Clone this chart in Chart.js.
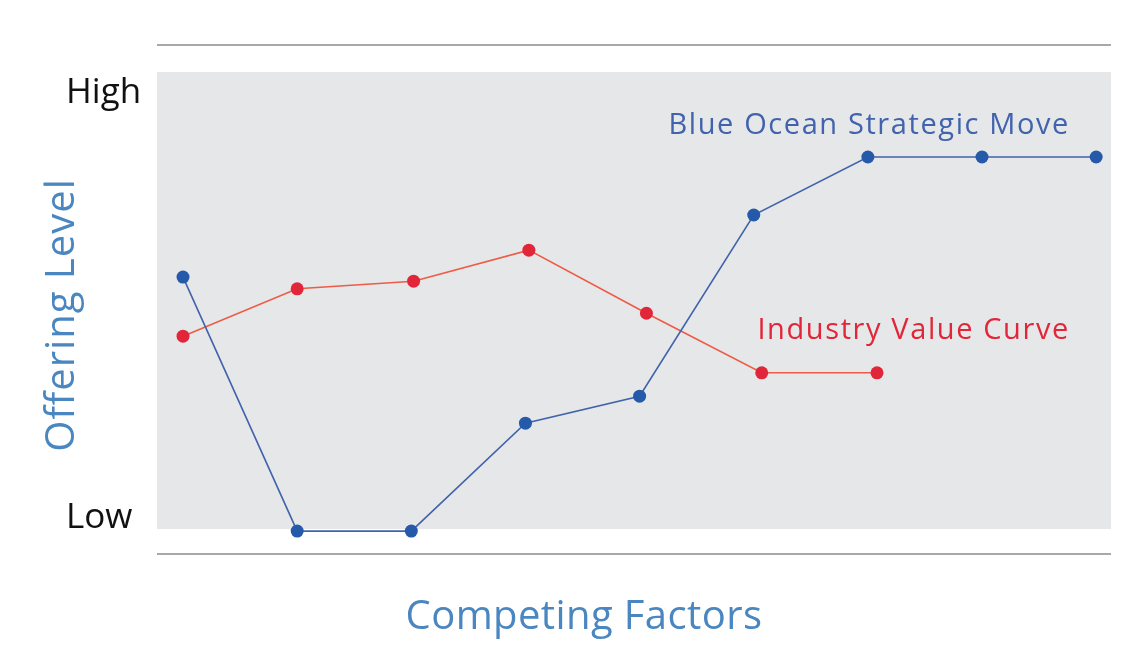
<!DOCTYPE html>
<html>
<head>
<meta charset="utf-8">
<script src="https://cdn.jsdelivr.net/npm/chart.js@4.4.1/dist/chart.umd.min.js"></script>
<style>
  html, body { margin: 0; padding: 0; background: #fff; }
  #canvas-wrap { width: 1146px; height: 660px; }
</style>
</head>
<body>
<div id="canvas-wrap"><canvas id="strategy-canvas" width="1146" height="660"></canvas></div>
<script>
// competing factor positions (x) and offering levels (y, 0-100)
const blueX = [0, 1, 2, 3, 4, 5, 6, 7, 8];
const blueLevels = [54.4, 4.5, 4.5, 25.7, 31.0, 66.6, 78.0, 78.0, 78.0];
const redX = [0, 1.0, 2.02, 3.03, 4.06, 5.07, 6.08];
const redLevels = [42.8, 52.1, 53.6, 59.7, 47.3, 35.6, 35.6];

const seriesNames = ['Blue Ocean Strategic Move', 'Industry Value Curve'];
const yTickValues = [7.1, 90.6];
const yTickLabels = ['Low', 'High'];
const axisTitles = { x: 'Competing Factors', y: 'Offering Level' };

// grey plot band, in level units
const bandRange = [4.9, 94.7];
// where the curve names sit (x in factor units, y in level units)
const nameAnchors = [
  { x: 7.77, y: 82.5 },
  { x: 7.77, y: 42.2 },
];

const BLUE_LINE = '#4163ad';
const BLUE_DOT = '#2559a9';
const RED_LINE = '#ee5b47';
const RED_DOT = '#e2263a';
const TITLE_BLUE = '#4a86c0';
const FONT = '"Open Sans", "Noto Sans", sans-serif';

const toPoints = (xs, ys) => xs.map((x, i) => ({ x: x, y: ys[i] }));

const canvasDecor = {
  id: 'canvasDecor',
  beforeDatasetsDraw(chart) {
    const { ctx, chartArea, scales } = chart;
    const yTop = scales.y.getPixelForValue(bandRange[1]);
    const yBot = scales.y.getPixelForValue(bandRange[0]);
    ctx.save();
    ctx.fillStyle = '#e6e7e8';
    ctx.fillRect(chartArea.left, yTop, chartArea.right - chartArea.left, yBot - yTop);
    // top and bottom rules
    ctx.strokeStyle = '#8c8c8c';
    ctx.lineWidth = 1.5;
    ctx.beginPath();
    ctx.moveTo(chartArea.left, chartArea.top);
    ctx.lineTo(chartArea.right, chartArea.top);
    ctx.moveTo(chartArea.left, chartArea.bottom);
    ctx.lineTo(chartArea.right, chartArea.bottom);
    ctx.stroke();
    ctx.restore();
  },
  afterDraw(chart) {
    const { ctx, scales } = chart;
    ctx.save();
    // curve names
    ctx.font = '29px ' + FONT;
    ctx.letterSpacing = '1.6px';
    ctx.textAlign = 'right';
    ctx.textBaseline = 'alphabetic';
    const nameColors = [BLUE_LINE, RED_DOT];
    seriesNames.forEach((name, i) => {
      ctx.fillStyle = nameColors[i];
      ctx.fillText(name,
        scales.x.getPixelForValue(nameAnchors[i].x),
        scales.y.getPixelForValue(nameAnchors[i].y));
    });
    // axis titles
    ctx.fillStyle = TITLE_BLUE;
    ctx.font = '40px ' + FONT;
    ctx.letterSpacing = '0.4px';
    ctx.textAlign = 'center';
    ctx.textBaseline = 'middle';
    ctx.fillText(axisTitles.x, 584, 618);
    ctx.letterSpacing = '1px';
    ctx.translate(63, 315);
    ctx.rotate(-Math.PI / 2);
    ctx.fillText(axisTitles.y, 0, 0);
    ctx.restore();
  },
};

const strategyCanvas = document.getElementById('strategy-canvas');
const ctxStrategy = strategyCanvas.getContext('2d');

const strategyChart = new Chart(ctxStrategy, {
  type: 'line',
  data: {
    datasets: [
      {
        label: seriesNames[0],
        data: toPoints(blueX, blueLevels),
        borderColor: BLUE_LINE,
        backgroundColor: BLUE_DOT,
        borderWidth: 1.6,
        pointRadius: 6.5,
        pointBorderWidth: 0,
        pointBackgroundColor: BLUE_DOT,
      },
      {
        label: seriesNames[1],
        data: toPoints(redX, redLevels),
        borderColor: RED_LINE,
        backgroundColor: RED_DOT,
        borderWidth: 1.6,
        pointRadius: 6.5,
        pointBorderWidth: 0,
        pointBackgroundColor: RED_DOT,
      },
    ],
  },
  options: {
    responsive: false,
    animation: false,
    devicePixelRatio: 1,
    layout: {
      padding: { left: 66, top: 45, right: 35, bottom: 106 },
    },
    plugins: {
      legend: { display: false },
      tooltip: { enabled: false },
    },
    scales: {
      x: {
        type: 'linear',
        display: false,
        min: -0.228,
        max: 8.13,
      },
      y: {
        type: 'linear',
        min: 0,
        max: 100,
        grid: { display: false },
        border: { display: false },
        afterFit: (scale) => { scale.width = 91; },
        afterBuildTicks: (scale) => {
          scale.ticks = yTickValues.map((v) => ({ value: v }));
        },
        ticks: {
          padding: 8,
          crossAlign: 'far',
          color: '#111',
          font: { family: FONT, size: 35 },
          callback: (value) => yTickLabels[yTickValues.indexOf(value)],
        },
      },
    },
  },
  plugins: [canvasDecor],
});
</script>
</body>
</html>
